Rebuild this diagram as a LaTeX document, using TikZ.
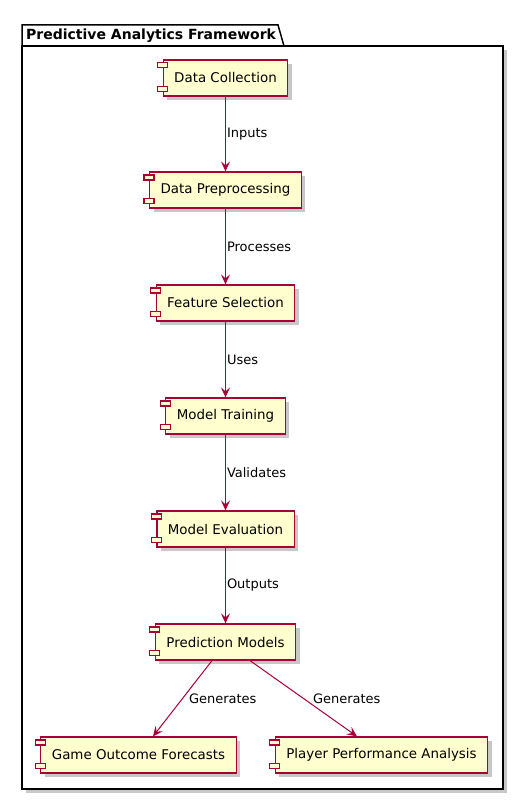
\documentclass[tikz,border=0pt]{standalone}
\usepackage{fontspec}
\setmainfont{DejaVu Sans}
\usetikzlibrary{arrows.meta,calc,shadows}
\definecolor{umlfill}{HTML}{FEFECE}
\definecolor{umlline}{HTML}{A80036}
\tikzset{
	comp/.style={draw=umlline, fill=umlfill, line width=1.2pt, minimum height=36pt, inner xsep=11pt,
		font=\fontsize{13.4}{16}\selectfont,
		drop shadow={shadow xshift=4pt, shadow yshift=-4pt, fill=black!30, opacity=0.7}},
	port/.style={draw=umlline, fill=umlfill, line width=1.2pt},
	flow/.style={draw=umlline, line width=1pt, -{Stealth[length=10pt,width=9pt,inset=4pt]}},
	flowlabel/.style={font=\fontsize{13}{15}\selectfont, inner sep=1pt}
}

\begin{document}
\begin{tikzpicture}[x=1pt, y=-1pt]
		%%%%% START %%%%%
		\useasboundingbox[fill=white] (0,0) rectangle (524,800);
		
		% package frame and tab
		\draw[line width=1.5pt, fill=white, drop shadow={shadow xshift=4pt, shadow yshift=-4pt, fill=black!30, opacity=0.7}] (22,46) rectangle (503,789);
		\draw[line width=1.5pt, fill=white] (22,46) -- (22,25) -- (278,25) -- (284,46) -- cycle;
		\node[anchor=west, inner sep=0pt, font=\bfseries\fontsize{14}{16}\selectfont] (pkgtitle) at (26,35.5) {Predictive Analytics Framework};
		
		% components
		\node[comp] (collect) at (225.5, 78) {Data Collection};
		\node[comp] (preproc) at (225.5, 190) {Data Preprocessing};
		\node[comp] (featsel) at (225.5, 303) {Feature Selection};
		\node[comp] (train) at (225.5, 416) {Model Training};
		\node[comp] (evaluate) at (225.5, 529) {Model Evaluation};
		\node[comp] (predict) at (225.5, 642) {Prediction Models};
		\node[comp] (game) at (138.5, 755) {Game Outcome Forecasts};
		\node[comp] (player) at (381.5, 755) {Player Performance Analysis};
		
		\foreach \n in {collect,preproc,featsel,train,evaluate,predict,game,player}{
			\draw[port] ($(\n.north west)+(-5,3.5)$) rectangle ++(10,5);
			\draw[port] ($(\n.south west)+(-5,-10)$) rectangle ++(10,5);
		}
		
		% connectors
		\draw[flow] (collect) -- (preproc) node[midway, right, flowlabel] {Inputs};
		\draw[flow] (preproc) -- (featsel) node[midway, right, flowlabel] {Processes};
		\draw[flow] (featsel) -- (train) node[midway, right, flowlabel] {Uses};
		\draw[flow] (train) -- (evaluate) node[midway, right, flowlabel] {Validates};
		\draw[flow] (evaluate) -- (predict) node[midway, right, flowlabel] {Outputs};
		\draw[flow] ([xshift=-13.5pt]predict.south) -- ([xshift=14.5pt]game.north) node[midway, anchor=west, xshift=5pt, flowlabel] {Generates};
		\draw[flow] ([xshift=24.5pt]predict.south) -- ([xshift=-24.5pt]player.north) node[midway, anchor=west, xshift=8pt, flowlabel] {Generates};
		
		%%%%% END %%%%%
	\end{tikzpicture}
\end{document}
